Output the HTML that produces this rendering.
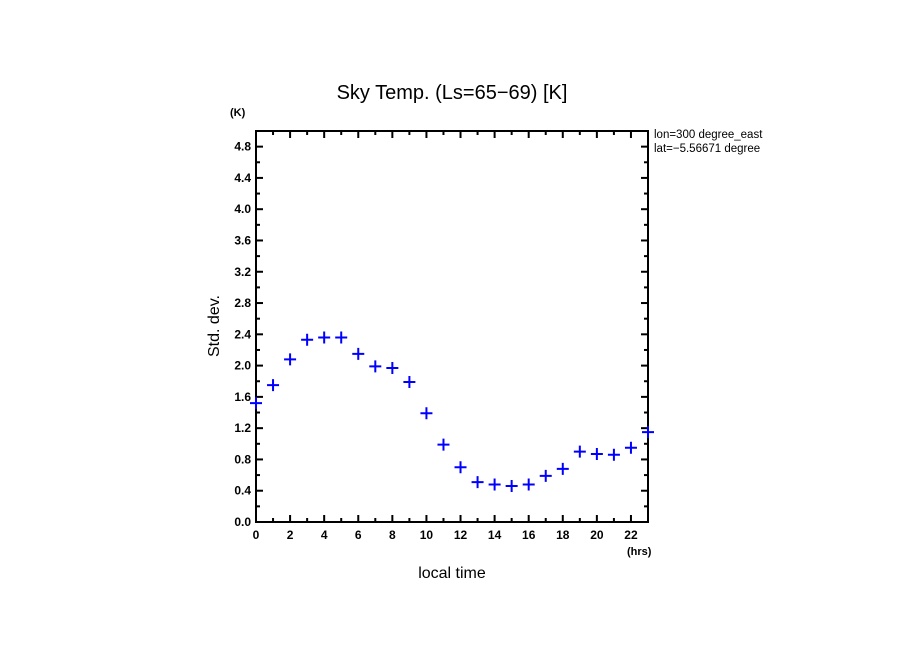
<!DOCTYPE html>
<html><head><meta charset="utf-8"><style>
body{margin:0;background:#fff;width:904px;height:654px;overflow:hidden}
svg text{font-family:"Liberation Sans",sans-serif;fill:#000}
</style></head><body>
<svg id="chart" width="904" height="654" xmlns="http://www.w3.org/2000/svg">
<defs><clipPath id="annClip"><rect x="650" y="120" width="130" height="40"/></clipPath></defs>
<text x="452" y="99" font-size="20" text-anchor="middle">Sky Temp. (Ls=65−69) [K]</text>
<text x="230" y="116" font-size="11" font-weight="bold">(K)</text>
<text x="627" y="555" font-size="11" font-weight="bold">(hrs)</text>
<text x="452" y="578" font-size="16" text-anchor="middle">local time</text>
<text x="0" y="0" font-size="16" text-anchor="middle" transform="translate(219,326) rotate(-90)">Std. dev.</text>
<g clip-path="url(#annClip)">
<text x="654" y="138" font-size="11.5">lon=300 degree_east</text>
<text x="654" y="152" font-size="11.5">lat=−5.56671 degree</text>
</g>
<g id="axes"></g><g id="marks"></g>
</svg>
<script>
const hours=[0,1,2,3,4,5,6,7,8,9,10,11,12,13,14,15,16,17,18,19,20,21,22,23];
const stdDev=[1.52,1.75,2.08,2.33,2.36,2.36,2.15,1.99,1.97,1.79,1.39,0.99,0.70,0.51,0.48,0.46,0.48,0.59,0.68,0.90,0.87,0.86,0.95,1.15];
const xTickLabels=["0","2","4","6","8","10","12","14","16","18","20","22"];
const yTickLabels=["0.0","0.4","0.8","1.2","1.6","2.0","2.4","2.8","3.2","3.6","4.0","4.4","4.8"];
const X0=256,X1=648,Y0=522,Y1=131,xmin=0,xmax=23,ymin=0,ymax=5.0;
const sx=v=>X0+(v-xmin)/(xmax-xmin)*(X1-X0);
const sy=v=>Y0-(v-ymin)/(ymax-ymin)*(Y0-Y1);
const NS="http://www.w3.org/2000/svg";
const ax=document.getElementById('axes'),mk=document.getElementById('marks');
function mkEl(t,a,p){const e=document.createElementNS(NS,t);for(const k in a)e.setAttribute(k,a[k]);p.appendChild(e);return e;}
const fr=mkEl('rect',{x:X0,y:Y1,width:X1-X0,height:Y0-Y1,fill:'none',stroke:'#000','stroke-width':2},ax);


for(let h=0;h<=23;h++){const x=sx(h),L=h%2==0?7:4;
 mkEl('line',{x1:x,y1:Y0,x2:x,y2:Y0-L,stroke:'#000','stroke-width':2},ax);
 mkEl('line',{x1:x,y1:Y1,x2:x,y2:Y1+L,stroke:'#000','stroke-width':2},ax);}
xTickLabels.forEach(s=>{const t=mkEl('text',{x:sx(+s),y:Y0+17,'font-size':12,'font-weight':'bold','text-anchor':'middle'},ax);t.textContent=s;
 
 });
for(let i=0;i<=25;i++){const v=i*0.2,y=sy(v),L=i%2==0?7:4;
 mkEl('line',{x1:X0,y1:y,x2:X0+L,y2:y,stroke:'#000','stroke-width':2},ax);
 mkEl('line',{x1:X1,y1:y,x2:X1-L,y2:y,stroke:'#000','stroke-width':2},ax);}
yTickLabels.forEach(s=>{const t=mkEl('text',{x:X0-5,y:sy(+s)+4,'font-size':12,'font-weight':'bold','text-anchor':'end'},ax);t.textContent=s;
 
 });
hours.forEach((h,i)=>{const x=sx(h),y=sy(stdDev[i]);
 const g=mkEl('path',{d:`M${x-6},${y}H${x+6}M${x},${y-6}V${y+6}`,stroke:'#0000ff','stroke-width':2,fill:'none'},mk);
 
 });
</script>
</body></html>
